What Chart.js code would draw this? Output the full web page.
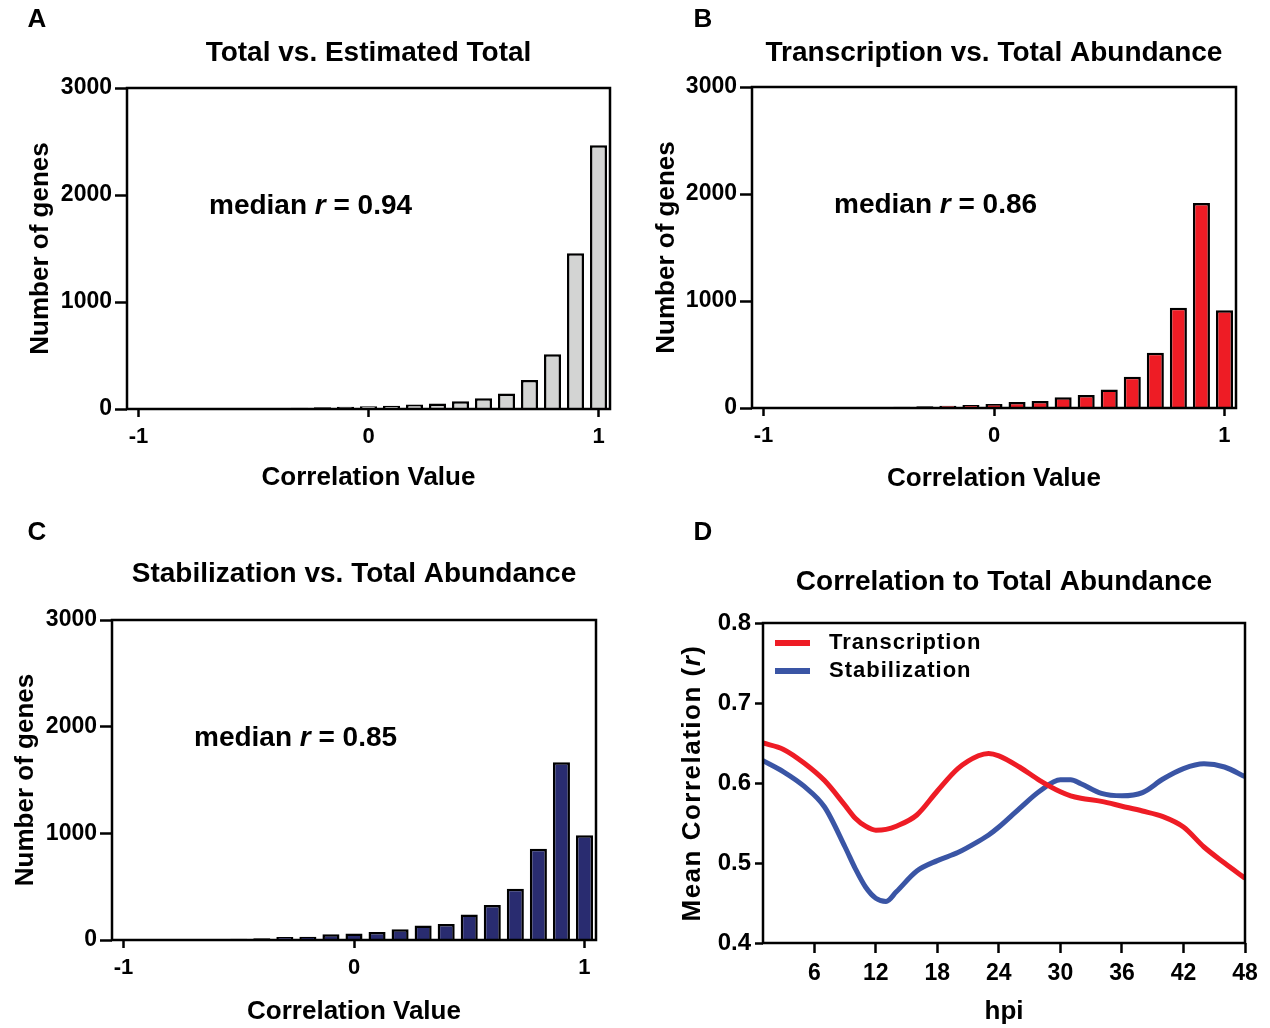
<!DOCTYPE html>
<html>
<head>
<meta charset="utf-8">
<script src="https://cdn.jsdelivr.net/npm/chart.js@4.4.1/dist/chart.umd.min.js"></script>
<style>
  html, body { margin: 0; padding: 0; background: #fff; }
  body { width: 1270px; height: 1028px; position: relative; overflow: hidden; }
  .panel { position: absolute; }
  #boxA { left: 0; top: 0; width: 635px; height: 510px; }
  #boxB { left: 635px; top: 0; width: 635px; height: 510px; }
  #boxC { left: 0; top: 510px; width: 635px; height: 518px; }
  #boxD { left: 635px; top: 510px; width: 635px; height: 518px; }
</style>
</head>
<body>
<div class="panel" id="boxA"><canvas id="chartA"></canvas></div>
<div class="panel" id="boxB"><canvas id="chartB"></canvas></div>
<div class="panel" id="boxC"><canvas id="chartC"></canvas></div>
<div class="panel" id="boxD"><canvas id="chartD"></canvas></div>
<script>
const FONT = '"Liberation Sans", Arial, Helvetica, sans-serif';

// histograms (A-C): bin centres of the correlation value, counts per bin
const binCenters = [-1.0, -0.9, -0.8, -0.7, -0.6, -0.5, -0.4, -0.3, -0.2, -0.1, 0.0,
                    0.1, 0.2, 0.3, 0.4, 0.5, 0.6, 0.7, 0.8, 0.9, 1.0];
const totalCounts = [0, 0, 0, 0, 0, 6, 9, 12, 16, 20, 26, 30, 42, 52, 72, 100, 145, 270, 512, 1455, 2465];
const transcriptionCounts = [0, 0, 3, 4, 6, 9, 12, 16, 22, 28, 37, 56, 65, 100, 121, 174, 292, 516, 936, 1916, 914];
const stabilizationCounts = [0, 0, 5, 8, 9, 12, 16, 28, 31, 53, 62, 75, 100, 137, 150, 240, 328, 480, 855, 1666, 983];
const histXTicks = [-1, 0, 1];
const histYTicks = [0, 1000, 2000, 3000];

// panel D: mean correlation over time
const hpi = [1, 3, 5, 7, 9, 10, 11, 12, 13, 14, 16, 18, 20, 22, 23, 24, 26, 28, 30, 31, 32, 34, 36, 38, 40, 42, 44, 46, 48];
const transcriptionR = [0.650, 0.642, 0.625, 0.603, 0.572, 0.556, 0.546, 0.541, 0.542, 0.546, 0.560, 0.590, 0.618, 0.634, 0.637, 0.634,
                        0.620, 0.603, 0.589, 0.584, 0.581, 0.577, 0.571, 0.565, 0.558, 0.545, 0.520, 0.500, 0.481];
const stabilizationR = [0.628, 0.614, 0.596, 0.570, 0.520, 0.493, 0.470, 0.456, 0.452, 0.464, 0.490, 0.503, 0.513, 0.527, 0.535, 0.545,
                        0.568, 0.590, 0.604, 0.604, 0.599, 0.587, 0.584, 0.588, 0.605, 0.618, 0.624, 0.620, 0.608];
const hpiTicks = [6, 12, 18, 24, 30, 36, 42, 48];
const rTicks = [0.4, 0.5, 0.6, 0.7, 0.8];

Chart.defaults.font.family = FONT;
Chart.defaults.color = '#000';

// draws a run of text pieces, some italic, starting at x
function drawRich(ctx, parts, x, y, size) {
    let cx = x;
    parts.forEach(p => {
        ctx.font = (p.italic ? 'italic ' : '') + 'bold ' + size + 'px ' + FONT;
        ctx.fillText(p.text, cx, y);
        cx += ctx.measureText(p.text).width;
    });
}
function richWidth(ctx, parts, size) {
    let w = 0;
    parts.forEach(p => {
        ctx.font = (p.italic ? 'italic ' : '') + 'bold ' + size + 'px ' + FONT;
        w += ctx.measureText(p.text).width;
    });
    return w;
}

const framePlugin = {
    id: 'frame',
    afterDatasetsDraw(chart) {
        const { ctx, chartArea: a } = chart;
        ctx.save();
        ctx.strokeStyle = '#000';
        ctx.lineWidth = 2.5;
        ctx.strokeRect(a.left, a.top, a.right - a.left, a.bottom - a.top);
        ctx.restore();
    }
};

const textPlugin = {
    id: 'panelText',
    afterDraw(chart, args, opts) {
        const { ctx, chartArea: a } = chart;
        ctx.save();
        ctx.fillStyle = '#000';
        if (opts.letter) {
            ctx.font = 'bold 26px ' + FONT;
            ctx.textAlign = 'center';
            ctx.textBaseline = 'middle';
            ctx.fillText(opts.letter.text, opts.letter.x, opts.letter.y);
        }
        ctx.textAlign = 'left';
        if (opts.note) {
            ctx.textBaseline = 'alphabetic';
            drawRich(ctx, opts.note.parts, a.left + opts.note.dx, a.top + opts.note.dy, 28);
        }
        if (opts.legend) {
            opts.legend.forEach((item, i) => {
                const y = a.top + 20 + i * 28;
                ctx.fillStyle = item.color;
                ctx.fillRect(a.left + 12, y - 3, 35, 6);
                ctx.fillStyle = '#000';
                ctx.font = 'bold 22px ' + FONT;
                ctx.textBaseline = 'middle';
                ctx.letterSpacing = '1px';
                ctx.fillText(item.text, a.left + 66, y);
                ctx.letterSpacing = '0px';
            });
        }
        if (opts.yTitle) {
            const size = 26;
            ctx.translate(opts.yTitle.x, (a.top + a.bottom) / 2);
            ctx.rotate(-Math.PI / 2);
            ctx.textBaseline = 'middle';
            ctx.letterSpacing = '1.5px';
            const w = richWidth(ctx, opts.yTitle.parts, size);
            drawRich(ctx, opts.yTitle.parts, -w / 2, 0, size);
        }
        ctx.restore();
    }
};

function tickGrid(len) {
    return { display: true, offset: false, drawOnChartArea: false, drawTicks: true, tickLength: len, tickWidth: 2.5, tickColor: '#000' };
}

function histogram(canvasId, title, counts, fill, median, L) {
    new Chart(document.getElementById(canvasId), {
        type: 'bar',
        data: {
            datasets: [{
                data: binCenters.map((c, i) => ({ x: c, y: counts[i] })),
                backgroundColor: fill,
                borderColor: '#000',
                borderWidth: 2.5,
                borderSkipped: 'start',
                categoryPercentage: 1.0,
                barPercentage: 0.74
            }]
        },
        options: {
            responsive: true,
            maintainAspectRatio: false,
            animation: false,
            events: [],
            layout: { padding: { left: 0, right: L.padRight, top: 0, bottom: 0 } },
            plugins: {
                legend: { display: false },
                tooltip: { enabled: false },
                title: {
                    display: true,
                    text: title,
                    fullSize: false,
                    color: '#000',
                    font: { size: 28, weight: 'bold' },
                    padding: { top: L.titleTop, bottom: L.titleBottom }
                },
                panelText: {
                    letter: L.letter,
                    note: { dx: 82, dy: 126, parts: [{ text: 'median ' }, { text: 'r', italic: true }, { text: ' = ' + median }] }
                }
            },
            scales: {
                x: {
                    type: 'linear',
                    offset: false,
                    min: -1.05,
                    max: 1.05,
                    afterBuildTicks: s => { s.ticks = histXTicks.map(v => ({ value: v })); },
                    afterFit: s => { s.height = L.xHeight; },
                    grid: tickGrid(8),
                    border: { display: false },
                    ticks: { font: { size: 22, weight: 'bold' }, color: '#000', padding: 7, maxRotation: 0, autoSkip: false,
                             callback: v => String(v) },
                    title: { display: true, text: 'Correlation Value', color: '#000', font: { size: 26, weight: 'bold' },
                             padding: { top: 0, bottom: L.xTitlePad } }
                },
                y: {
                    min: 0,
                    max: 3000,
                    afterBuildTicks: s => { s.ticks = histYTicks.map(v => ({ value: v })); },
                    afterFit: s => { s.width = L.yWidth; },
                    grid: tickGrid(12),
                    border: { display: false },
                    ticks: { font: { size: 23, weight: 'bold' }, color: '#000', padding: 3, callback: v => String(v) },
                    title: { display: true, text: 'Number of genes', color: '#000', font: { size: 26, weight: 'bold' },
                             padding: { top: L.yTitlePad, bottom: 0 } }
                }
            }
        },
        plugins: [framePlugin, textPlugin]
    });
}

histogram('chartA', 'Total vs. Estimated Total', totalCounts, '#d3d4d3', '0.94',
    { yWidth: 127, xHeight: 101, padRight: 25, titleTop: 36, titleBottom: 18.4, yTitlePad: 25, xTitlePad: 17,
      letter: { text: 'A', x: 37, y: 20 } });
histogram('chartB', 'Transcription vs. Total Abundance', transcriptionCounts, '#ee1c25', '0.86',
    { yWidth: 117, xHeight: 102, padRight: 34, titleTop: 36, titleBottom: 17.4, yTitlePad: 16, xTitlePad: 16,
      letter: { text: 'B', x: 68, y: 20 } });
histogram('chartC', 'Stabilization vs. Total Abundance', stabilizationCounts, '#292c70', '0.85',
    { yWidth: 112, xHeight: 88, padRight: 39, titleTop: 47, titleBottom: 29.4, yTitlePad: 10, xTitlePad: 1,
      letter: { text: 'C', x: 37, y: 23 } });

new Chart(document.getElementById('chartD'), {
    type: 'line',
    data: {
        datasets: [{
            label: 'Transcription',
            data: hpi.map((h, i) => ({ x: h, y: transcriptionR[i] })),
            borderColor: '#ee1c25',
            borderWidth: 5,
            pointRadius: 0,
            cubicInterpolationMode: 'monotone'
        }, {
            label: 'Stabilization',
            data: hpi.map((h, i) => ({ x: h, y: stabilizationR[i] })),
            borderColor: '#3a55a5',
            borderWidth: 5,
            pointRadius: 0,
            cubicInterpolationMode: 'monotone'
        }]
    },
    options: {
        responsive: true,
        maintainAspectRatio: false,
        animation: false,
        events: [],
        layout: { padding: { left: 0, right: 25, top: 0, bottom: 0 } },
        plugins: {
            legend: { display: false },
            tooltip: { enabled: false },
            title: {
                display: true,
                text: 'Correlation to Total Abundance',
                fullSize: false,
                color: '#000',
                font: { size: 28, weight: 'bold' },
                padding: { top: 55, bottom: 24.4 }
            },
            panelText: {
                letter: { text: 'D', x: 68, y: 23 },
                legend: [{ text: 'Transcription', color: '#ee1c25' }, { text: 'Stabilization', color: '#3a55a5' }],
                yTitle: { x: 58, parts: [{ text: 'Mean Correlation (' }, { text: 'r', italic: true }, { text: ')' }] }
            }
        },
        scales: {
            x: {
                type: 'linear',
                offset: false,
                min: 1,
                max: 48,
                afterBuildTicks: s => { s.ticks = hpiTicks.map(v => ({ value: v })); },
                afterFit: s => { s.height = 85; },
                grid: tickGrid(10),
                border: { display: false },
                ticks: { font: { size: 23, weight: 'bold' }, color: '#000', padding: 7, maxRotation: 0, autoSkip: false },
                title: { display: true, text: 'hpi', color: '#000', font: { size: 26, weight: 'bold' },
                         padding: { top: 0, bottom: 1 } }
            },
            y: {
                min: 0.4,
                max: 0.8,
                afterBuildTicks: s => { s.ticks = rTicks.map(v => ({ value: v })); },
                afterFit: s => { s.width = 128; },
                grid: tickGrid(8),
                border: { display: false },
                ticks: { font: { size: 24, weight: 'bold' }, color: '#000', padding: 4, callback: v => v.toFixed(1) },
                title: { display: false }
            }
        }
    },
    plugins: [framePlugin, textPlugin]
});
</script>
</body>
</html>
